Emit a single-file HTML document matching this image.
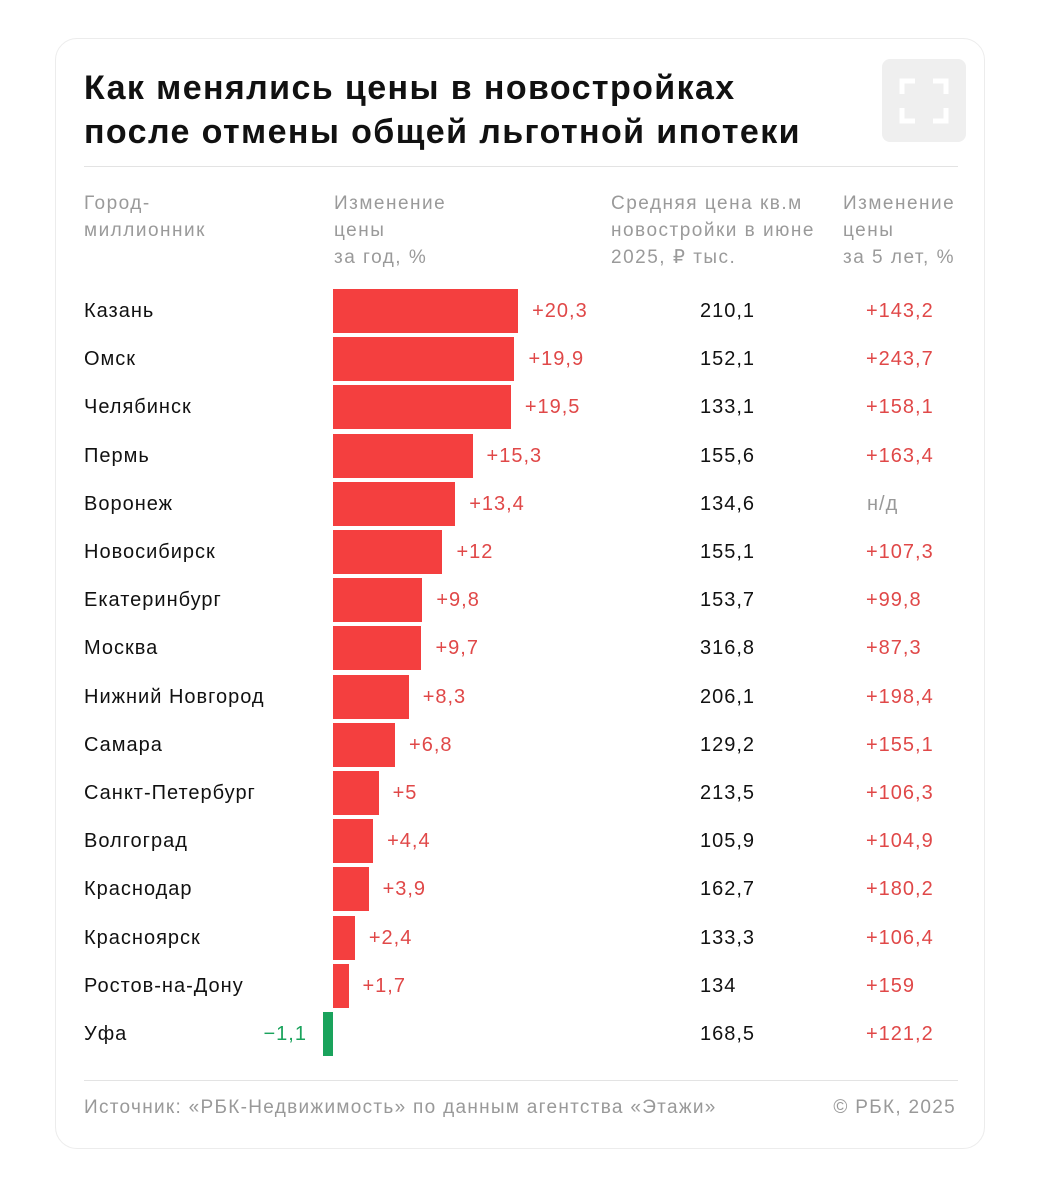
<!DOCTYPE html>
<html><head><meta charset="utf-8"><style>
body{margin:0;width:1041px;height:1200px;background:#fff;font-family:"Liberation Sans",sans-serif;position:relative;overflow:hidden}
.card{position:absolute;left:55px;top:38px;width:930px;height:1111px;border:1px solid #ececec;border-radius:22px;box-sizing:border-box}
.t{position:absolute;white-space:nowrap;letter-spacing:1px}
h1{position:absolute;left:84px;top:66px;margin:0;font-size:34px;line-height:44px;font-weight:bold;color:#111;letter-spacing:1.4px}
.hd{position:absolute;top:190px;font-size:19px;line-height:27px;color:#9a9a9a;letter-spacing:1.5px;white-space:nowrap}
.line{position:absolute;left:84px;width:874px;height:1px;background:#e3e3e3}
.ft{position:absolute;top:1097px;font-size:19px;color:#999;letter-spacing:1.3px;white-space:nowrap}
</style></head><body>
<div class="card"></div>
<h1>Как менялись цены в новостройках<br>после отмены общей льготной ипотеки</h1>
<div style="position:absolute;left:882px;top:59px;width:84px;height:83px;background:#efefef;border-radius:8px">
<svg width="84" height="83"><g stroke="#fff" stroke-width="5" fill="none"><path d="M20 35V22H33M51 22H64V35M64 49V62H51M33 62H20V49"/></g></svg></div>
<div class="line" style="top:166px"></div>
<div class="hd" style="left:84px">Город-<br>миллионник</div>
<div class="hd" style="left:334px">Изменение<br>цены<br>за год, %</div>
<div class="hd" style="left:611px">Средняя цена кв.м<br>новостройки в июне<br>2025, ₽ тыс.</div>
<div class="hd" style="left:843px">Изменение<br>цены<br>за 5 лет, %</div>
<div id="rows"></div>
<div class="line" style="top:1080px"></div>
<div class="ft" style="left:84px">Источник: «РБК-Недвижимость» по данным агентства «Этажи»</div>
<div class="ft" style="right:85px">© РБК, 2025</div>
<script>
const cities=["Казань","Омск","Челябинск","Пермь","Воронеж","Новосибирск","Екатеринбург","Москва","Нижний Новгород","Самара","Санкт-Петербург","Волгоград","Краснодар","Красноярск","Ростов-на-Дону","Уфа"];
const changeYear=[20.3,19.9,19.5,15.3,13.4,12,9.8,9.7,8.3,6.8,5,4.4,3.9,2.4,1.7,-1.1];
const avgPrice=["210,1","152,1","133,1","155,6","134,6","155,1","153,7","316,8","206,1","129,2","213,5","105,9","162,7","133,3","134","168,5"];
const change5y=["+143,2","+243,7","+158,1","+163,4","н/д","+107,3","+99,8","+87,3","+198,4","+155,1","+106,3","+104,9","+180,2","+106,4","+159","+121,2"];
const x0=333,scale=9.12,y0=310,step=48.2;
const xs=v=>x0+v*scale, ys=i=>y0+i*step;
const root=document.getElementById('rows');
const fmt=v=>(v>=0?'+':'−')+String(Math.abs(v)).replace('.',',');
cities.forEach((c,i)=>{
 const cy=ys(i);
 const add=(html,style)=>{const d=document.createElement('div');d.className='t';d.style.cssText=style;d.textContent=html;root.appendChild(d);return d;};
 let e=add(c,`left:84px;top:${cy-10}px;font-size:20px;color:#111`);
 
 
 const v=changeYear[i];
 const b=document.createElement('div');
 const l=Math.min(xs(0),xs(v)),w=Math.abs(xs(v)-xs(0));
 b.style.cssText=`position:absolute;left:${l}px;top:${cy-21}px;width:${w}px;height:44px;background:${v>=0?'#f43f3f':'#1aa35c'}`;
 
 
 root.appendChild(b);
 let lab;
 if(v>=0) lab=add(fmt(v),`left:${xs(v)+14}px;top:${cy-10}px;font-size:20px;color:#e04848`);
 else lab=add(fmt(v),`right:${1041-xs(v)+16}px;top:${cy-10}px;font-size:20px;color:#1aa35c`);
 
 
 e=add(avgPrice[i],`left:700px;top:${cy-10}px;font-size:20px;color:#111`);
 
 
 e=add(change5y[i],`left:${change5y[i]=='н/д'?867:866}px;top:${cy-10}px;font-size:20px;color:${change5y[i]=='н/д'?'#999':'#e04848'}`);
 
 
});
</script>
</body></html>
